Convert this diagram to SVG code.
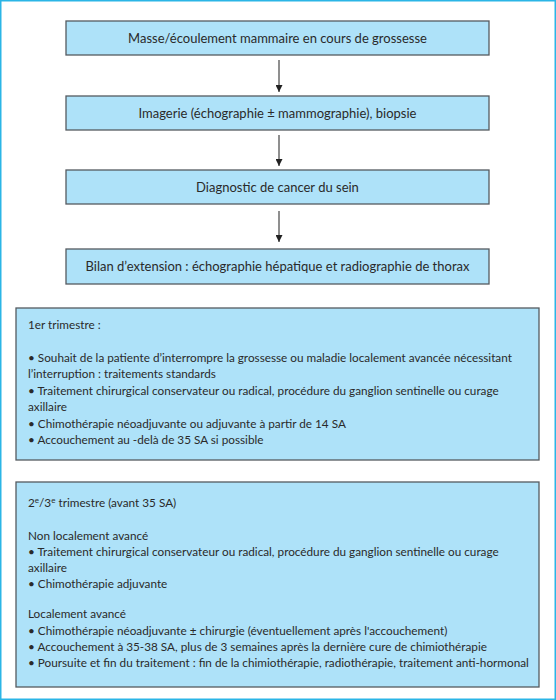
<svg xmlns="http://www.w3.org/2000/svg" width="556" height="700" viewBox="0 0 556 700">
<defs>
<style>
.box{fill:#aee2f9;stroke:#555b60;stroke-width:1.3}
.t{font-family:Lato,"Open Sans",sans-serif;font-size:11.75px;fill:#2a2a2a}
.c{text-anchor:middle;font-size:13px}
.conn{stroke:#333;stroke-width:1.1;fill:none}
</style>
<marker id="ah" viewBox="0 0 10 10" refX="10" refY="5" markerWidth="7" markerHeight="7" markerUnits="userSpaceOnUse" orient="auto">
<path d="M0,0 L10,5 L0,10 z" fill="#222"/>
</marker>
</defs>
<rect x="0.75" y="0.75" width="554.5" height="698.5" fill="#fff" stroke="#2bb5e6" stroke-width="1.5"/>
<g id="n1"><rect class="box" x="66" y="21" width="423" height="34"/><text class="t c" x="277.5" y="42.5">Masse/écoulement mammaire en cours de grossesse</text></g>
<g id="n2"><rect class="box" x="66" y="96" width="423" height="34"/><text class="t c" x="277.5" y="117.5">Imagerie (échographie ± mammographie), biopsie</text></g>
<g id="n3"><rect class="box" x="66" y="170" width="423" height="34"/><text class="t c" x="277.5" y="191.5">Diagnostic de cancer du sein</text></g>
<g id="n4"><rect class="box" x="66" y="249" width="423" height="35"/><text class="t c" x="277.5" y="271">Bilan d’extension : échographie hépatique et radiographie de thorax</text></g>
<g id="n5"><rect class="box" x="16" y="308" width="523" height="152"/>
<text class="t" x="28" y="329">1er trimestre :</text>
<text class="t" x="28" y="362">• Souhait de la patiente d’interrompre la grossesse ou maladie localement avancée nécessitant</text>
<text class="t" x="28" y="378">l’interruption : traitements standards</text>
<text class="t" x="28" y="395">• Traitement chirurgical conservateur ou radical, procédure du ganglion sentinelle ou curage</text>
<text class="t" x="28" y="411">axillaire</text>
<text class="t" x="28" y="428">• Chimothérapie néoadjuvante ou adjuvante à partir de 14 SA</text>
<text class="t" x="28" y="444">• Accouchement au -delà de 35 SA si possible</text>
</g>
<g id="n6"><rect class="box" x="16" y="482" width="523" height="205"/>
<text class="t" x="28" y="507">2<tspan font-size="8" dy="-4">e</tspan><tspan dy="4">/3</tspan><tspan font-size="8" dy="-4">e</tspan><tspan dy="4"> trimestre (avant 35 SA)</tspan></text>
<text class="t" x="28" y="540">Non localement avancé</text>
<text class="t" x="28" y="556">• Traitement chirurgical conservateur ou radical, procédure du ganglion sentinelle ou curage</text>
<text class="t" x="28" y="572">axillaire</text>
<text class="t" x="28" y="588">• Chimothérapie adjuvante</text>
<text class="t" x="28" y="618">Localement avancé</text>
<text class="t" x="28" y="635">• Chimothérapie néoadjuvante ± chirurgie (éventuellement après l'accouchement)</text>
<text class="t" x="28" y="651">• Accouchement à 35-38 SA, plus de 3 semaines après la dernière cure de chimiothérapie</text>
<text class="t" x="28" y="667">• Poursuite et fin du traitement : fin de la chimiothérapie, radiothérapie, traitement anti-hormonal</text>
</g>
<g id="connectors">
<line class="conn" x1="279" y1="60" x2="279" y2="92" marker-end="url(#ah)"/>
<line class="conn" x1="279" y1="135" x2="279" y2="166" marker-end="url(#ah)"/>
<line class="conn" x1="279" y1="211" x2="279" y2="242" marker-end="url(#ah)"/>
</g>
</svg>
